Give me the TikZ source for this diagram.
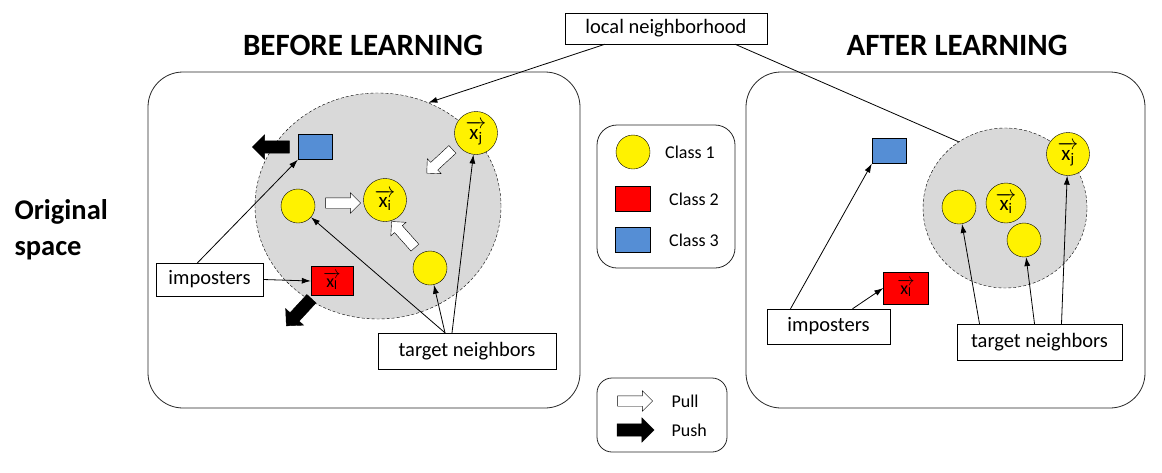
\documentclass[tikz,border=0pt]{standalone}
\usepackage{amsmath}
\usepackage{fontspec}
\setmainfont{Carlito}
\usepackage{tikz}
\usetikzlibrary{shapes,arrows.meta,positioning}

\definecolor{clsblue}{RGB}{85,142,213}
\definecolor{hoodgray}{RGB}{217,217,217}

\tikzset{
    panel/.style={draw=black!85, line width=0.8pt},
    hood/.style={ellipse, draw, dashed, dash pattern=on 3pt off 2pt, fill=hoodgray, inner sep=0pt},
    yel/.style={circle, draw, fill=yellow, inner sep=0pt, minimum size=34pt},
    yelbig/.style={yel, minimum size=43pt, font=\fontsize{21}{21}\selectfont},
    redsq/.style={rectangle, draw, fill=red, minimum width=42pt, minimum height=29pt, inner sep=0pt, font=\fontsize{18}{18}\selectfont},
    bluesq/.style={rectangle, draw, fill=clsblue, minimum width=34pt, minimum height=25pt, inner sep=0pt},
    tag/.style={rectangle, draw, fill=white, inner sep=0pt, font=\fontsize{20.5}{20.5}\selectfont},
    lgd/.style={font=\fontsize{18}{18}\selectfont},
    title/.style={font=\fontsize{31}{31}\selectfont\bfseries},
    pull/.style={single arrow, draw, fill=white, minimum height=35pt, inner xsep=0pt, inner ysep=5pt,
        single arrow head extend=5pt, sloped, allow upside down},
    push/.style={pull, fill=black, minimum height=37pt, inner ysep=6pt, single arrow head extend=6pt},
    conn/.style={line width=0.8pt, -{Latex[length=9pt,width=6pt]}}
}

\begin{document}
\begin{tikzpicture}[x=1pt,y=-1pt]
    \useasboundingbox (0,0) rectangle (1162,472);

    % titles
    \node[title] (tbefore) at (363,45) {BEFORE LEARNING};
    \node[title] (tafter) at (957,45) {AFTER LEARNING};
    \node[title, align=left, anchor=west, font=\fontsize{28.5}{36}\selectfont\bfseries] (orig) at (11,230) {Original\\space};

    % panels
    \draw[panel, rounded corners=35pt] (148,72) rectangle (580,408);
    \draw[panel, rounded corners=35pt] (746,72) rectangle (1145,408);
    \draw[panel, rounded corners=20pt] (597,125) rectangle (735,268);
    \draw[panel, rounded corners=15pt] (597,378) rectangle (727,452);

    % before learning
    \node[hood, minimum width=246pt, minimum height=226pt] (hoodL) at (378,206) {};
    \node[bluesq] (blueL) at (315,147) {};
    \node[redsq] (redL) at (332,281) {$\overrightarrow{\text{x}_\text{l}}$};
    \node[yelbig] (xjL) at (476,133) {$\overrightarrow{\text{x}_\text{j}}$};
    \node[yelbig] (xiL) at (385,200) {$\overrightarrow{\text{x}_\text{i}}$};
    \node[yel] (nbL) at (298,206) {};
    \node[yel] (nbL2) at (430,268) {};

    \path (323,203) -- (358,203) node[pull, midway] (pullA) {};
    \path (417,250) -- (393,223) node[pull, midway] (pullB) {};
    \path (455,147) -- (428,172) node[pull, midway] (pullC) {};
    \path (292,147) -- (256,147) node[push, midway] (pushA) {};
    \path (313,297) -- (289,323) node[push, midway] (pushB) {};

    \node[tag, minimum width=107pt, minimum height=33pt] (impL) at (209.5,279.5) {imposters};
    \node[tag, minimum width=178pt, minimum height=36pt] (tgtL) at (467,351) {target neighbors};
    \draw[conn] ([xshift=-12pt]impL.north) -- (blueL.south west);
    \draw[conn] (impL.east) -- (redL.west);
    \draw[conn] ([xshift=-22pt]tgtL.north) -- (nbL);
    \draw[conn] ([xshift=-22pt]tgtL.north) -- (nbL2);
    \draw[conn] ([xshift=-15pt]tgtL.north) -- (xjL);

    % local neighborhood
    \node[tag, minimum width=202pt, minimum height=31pt] (lnb) at (666,28.5) {local neighborhood};

    % after learning
    \node[hood, minimum width=164pt, minimum height=160pt] (hoodR) at (1005,208) {};
    \node[bluesq] (blueR) at (889,151) {};
    \node[redsq, minimum width=45pt, minimum height=32pt] (redR) at (906,288) {$\overrightarrow{\text{x}_\text{l}}$};
    \node[yelbig] (xjR) at (1068,154) {$\overrightarrow{\text{x}_\text{j}}$};
    \node[yelbig, minimum size=40pt] (xiR) at (1006,203) {$\overrightarrow{\text{x}_\text{i}}$};
    \node[yel] (nbR) at (959,207) {};
    \node[yel] (nbR2) at (1024,240) {};

    \node[tag, minimum width=123pt, minimum height=35pt] (impR) at (828.5,326.5) {imposters};
    \node[tag, minimum width=165pt, minimum height=36pt] (tgtR) at (1039.5,342) {target neighbors};
    \draw[conn] ([xshift=-38pt]impR.north) -- (blueR.south west);
    \draw[conn] ([xshift=24pt]impR.north) -- (redR.west);
    \draw[conn] ([xshift=-60pt]tgtR.north) -- (nbR);
    \draw[conn] ([xshift=-5pt]tgtR.north) -- (nbR2);
    \draw[conn] ([xshift=22pt]tgtR.north) -- (xjR);

    \draw[conn] ([xshift=-61pt]lnb.south) -- (hoodL.64);
    \draw[line width=0.8pt] ([xshift=69pt]lnb.south) -- (hoodR.125);

    % legend
    \node[yel] (lg1) at (633,152) {};
    \node[lgd] (lgt1) at (690,152) {Class 1};
    \node[redsq, minimum width=35pt, minimum height=25pt] (lg2) at (632.5,198.5) {};
    \node[lgd] (lgt2) at (694,199) {Class 2};
    \node[bluesq, minimum width=35pt, minimum height=25pt] (lg3) at (632.5,239.5) {};
    \node[lgd] (lgt3) at (694,240) {Class 3};

    \path (615,401) -- (650,401) node[pull, midway] (lgpull) {};
    \node[lgd, anchor=west] (lgtpull) at (668,401) {Pull};
    \path (615,430) -- (650,430) node[push, midway] (lgpush) {};
    \node[lgd, anchor=west] (lgtpush) at (668,430) {Push};
\end{tikzpicture}
\end{document}
